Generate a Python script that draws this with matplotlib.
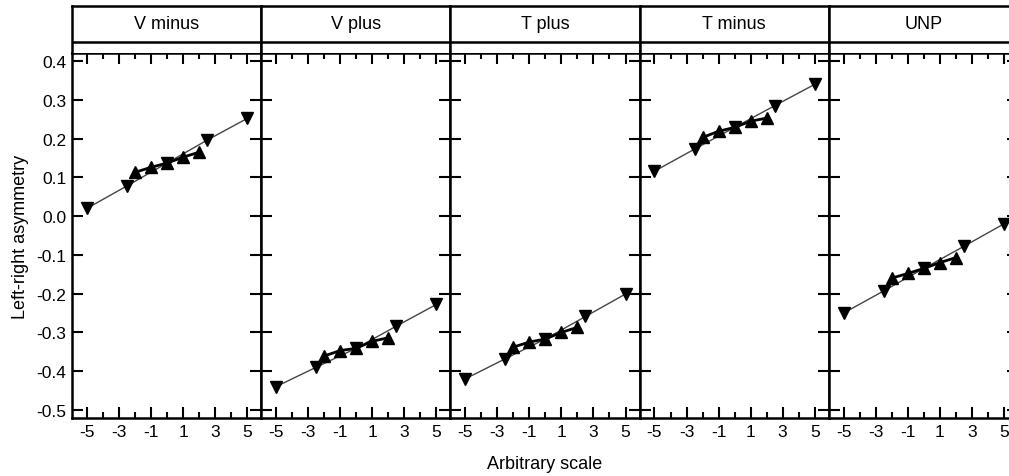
import matplotlib
matplotlib.use("Agg")
import matplotlib.pyplot as plt
from matplotlib.ticker import MultipleLocator, FixedLocator

plt.rcParams['font.family'] = ['Liberation Sans', 'DejaVu Sans']

# panel names
panels = ["V minus", "V plus", "T plus", "T minus", "UNP"]

# wide scan (down triangles, thin line)
x_wide = [-5, -2.5, 0, 2.5, 5]
y_wide = [
    [0.020, 0.078, 0.137, 0.196, 0.252],
    [-0.440, -0.390, -0.341, -0.284, -0.228],
    [-0.420, -0.368, -0.317, -0.259, -0.201],
    [0.116, 0.173, 0.229, 0.285, 0.340],
    [-0.250, -0.193, -0.135, -0.078, -0.020],
]

# narrow scan (up triangles, thick line)
x_narrow = [-2, -1, 0, 1, 2]
y_narrow = [
    [0.113, 0.126, 0.137, 0.152, 0.165],
    [-0.361, -0.347, -0.341, -0.323, -0.314],
    [-0.338, -0.325, -0.317, -0.300, -0.287],
    [0.203, 0.219, 0.229, 0.245, 0.253],
    [-0.160, -0.148, -0.135, -0.120, -0.107],
]

yticks = [0.4, 0.3, 0.2, 0.1, 0.0, -0.1, -0.2, -0.3, -0.4, -0.5]
xticks = [-5, -3, -1, 1, 3, 5]

W, H = 1009, 477
fig = plt.figure(figsize=(W / 100, H / 100), dpi=100)

left0 = 72
pw = 189.2
top, bottom = 54, 419
strip_top, strip_line = 7, 43

for i, name in enumerate(panels):
    x0 = left0 + i * pw
    ax = fig.add_axes([x0 / W, (H - bottom) / H, pw / W, (bottom - top) / H])
    ax.plot(x_wide, y_wide[i], color="#444444", lw=1.0, marker="v",
            ms=8.5, mfc="black", mec="black", zorder=3)
    ax.plot(x_narrow, y_narrow[i], color="black", lw=2.0, marker="^",
            ms=8.5, mfc="black", mec="black", zorder=4)
    ax.set_xlim(-5.93, 5.88)
    ax.set_ylim(-0.521, 0.421)
    ax.xaxis.set_major_locator(FixedLocator(xticks))
    ax.xaxis.set_minor_locator(MultipleLocator(2))
    ax.yaxis.set_major_locator(FixedLocator(yticks))
    ax.tick_params(axis="both", which="major", direction="in", length=8,
                   width=1.5, top=True, right=True, labelsize=12.5, pad=4)
    ax.tick_params(axis="x", which="minor", direction="in", length=4,
                   width=1.5, top=True, bottom=True)
    ax.set_xticklabels([str(t) for t in xticks])
    if i == 0:
        ax.set_yticklabels(["%.1f" % t for t in yticks])
        ax.set_ylabel("Left-right asymmetry", fontsize=13, labelpad=5)
    else:
        ax.set_yticklabels([])
    for s in ax.spines.values():
        s.set_linewidth(1.8)

    # strip header
    st = fig.add_axes([x0 / W, (H - top) / H, pw / W, (top - strip_top) / H])
    st.set_xticks([])
    st.set_yticks([])
    st.set_xlim(0, 1)
    st.set_ylim(0, 1)
    for s in st.spines.values():
        s.set_linewidth(1.8)
    st.spines["bottom"].set_visible(False)
    frac = (top - strip_line) / (top - strip_top)
    st.axhline(frac, color="black", lw=1.8)
    st.text(0.5, (frac + 1) / 2, name, ha="center", va="center", fontsize=13)

fig.text((left0 + 2.5 * pw) / W, 1 - 465 / H, "Arbitrary scale",
         ha="center", va="center", fontsize=13)

fig.savefig("out.png", dpi=100)
